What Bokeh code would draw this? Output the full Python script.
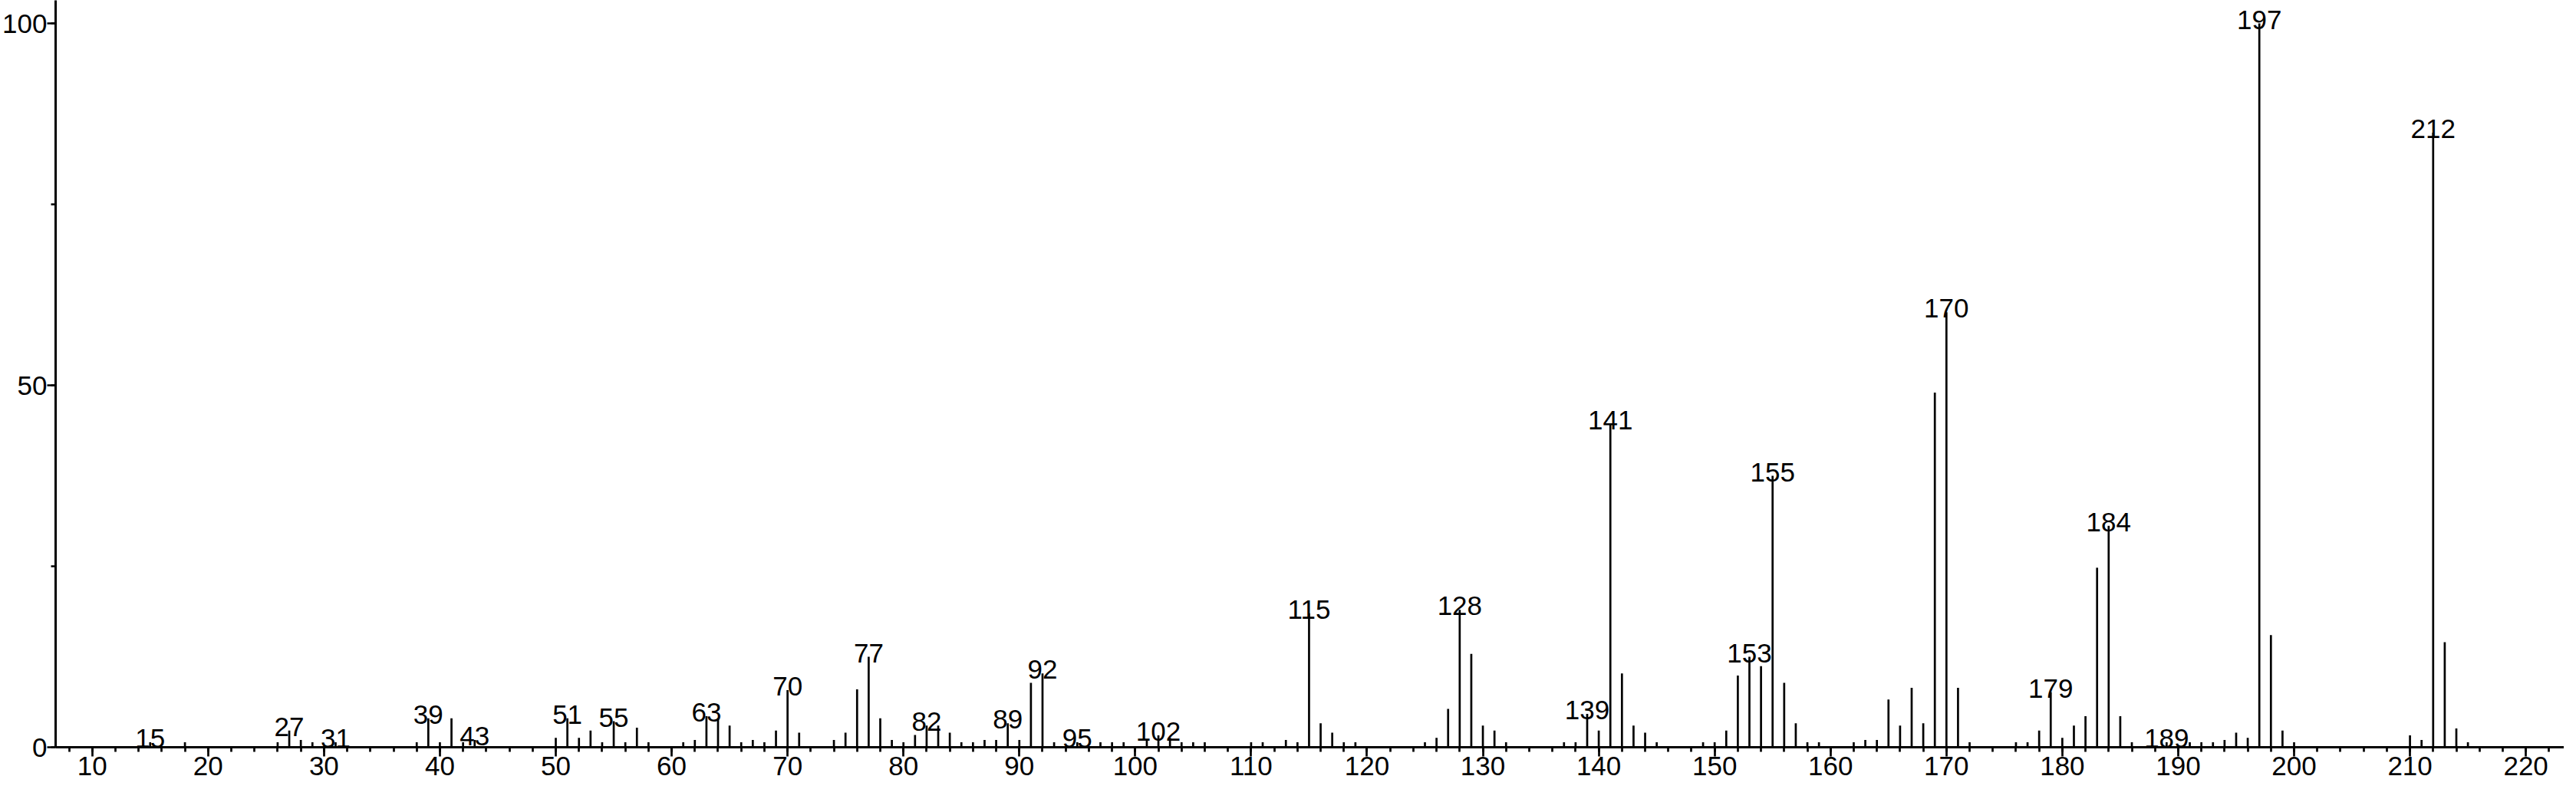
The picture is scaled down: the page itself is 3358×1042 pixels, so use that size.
from bokeh.plotting import figure
from bokeh.models import SingleIntervalTicker, Range1d, ColumnDataSource
from bokeh.core.properties import value
from bokeh.embed import file_html
from bokeh.resources import INLINE

# m/z values and relative intensities (%)
mz = [15, 18, 26, 27, 28, 29, 31, 38, 39, 40, 41, 42, 43,
      50, 51, 52, 53, 54, 55, 56, 57, 58, 61, 62, 63, 64, 65, 66, 67, 68, 69,
      70, 71, 74, 75, 76, 77, 78, 79, 80, 81, 82, 83, 84, 85, 86, 87, 88, 89,
      90, 91, 92, 93, 95, 97, 98, 99, 101, 102, 103, 104, 105, 106,
      110, 111, 113, 114, 115, 116, 117, 118, 119, 125, 126, 127, 128, 129,
      130, 131, 132, 137, 138, 139, 140, 141, 142, 143, 144, 145, 149,
      150, 151, 152, 153, 154, 155, 156, 157, 158, 159, 162, 163, 164, 165,
      166, 167, 168, 169, 170, 171, 172, 176, 177, 178, 179, 180, 181, 182,
      183, 184, 185, 186, 189, 191, 192, 193, 194, 195, 196, 197, 198, 199,
      200, 210, 211, 212, 213, 214, 215]
intensity = [0.7, 0.7, 0.7, 2.3, 1.0, 0.7, 0.7, 0.7, 4.0, 0.7, 4.0, 0.7, 1.0,
             1.3, 4.0, 1.3, 2.3, 0.7, 3.6, 0.7, 2.7, 0.7, 0.7, 1.0, 4.3, 4.0, 3.0, 0.7, 1.0, 0.7, 2.3,
             7.9, 2.0, 1.0, 2.0, 8.0, 12.5, 4.0, 1.0, 0.7, 1.7, 3.0, 3.0, 2.0, 0.7, 0.7, 1.0, 1.0, 3.3,
             1.0, 8.9, 10.2, 0.7, 0.7, 0.7, 0.7, 0.7, 1.0, 1.65, 1.3, 0.7, 0.7, 0.7,
             0.7, 0.7, 1.0, 0.7, 18.5, 3.3, 2.0, 0.7, 0.7, 0.7, 1.3, 5.3, 19.0, 12.9,
             3.0, 2.3, 0.7, 0.7, 0.7, 4.6, 2.3, 44.7, 10.2, 3.0, 2.0, 0.7, 0.7,
             0.7, 2.3, 9.9, 12.5, 11.2, 37.5, 8.9, 3.3, 0.7, 0.7, 0.7, 1.0, 1.0, 6.6,
             3.0, 8.2, 3.3, 49.0, 60.1, 8.2, 0.7, 0.7, 0.7, 2.3, 7.6, 1.3, 3.0, 4.3,
             24.8, 30.6, 4.3, 0.7, 0.7, 0.7, 0.7, 0.7, 1.0, 2.0, 1.3, 100.0, 15.5, 2.3,
             0.7, 1.65, 1.0, 84.9, 14.5, 2.6, 0.7]

# peaks carrying an m/z annotation
labeled_mz = [15, 27, 31, 39, 43, 51, 55, 63, 70, 77, 82, 89, 92, 95, 102,
              115, 128, 139, 141, 153, 155, 170, 179, 184, 189, 197, 212]

lookup = dict(zip(mz, intensity))
label_int = [lookup[m] for m in labeled_mz]
label_txt = [str(m) for m in labeled_mz]

FONT = "Liberation Sans"

p = figure(width=3342, height=1026, output_backend="svg", toolbar_location=None,
           x_range=Range1d(6.84, 223.3), y_range=Range1d(0, 103.18),
           min_border_left=70, min_border_right=0, min_border_top=0,
           min_border_bottom=52)
p.outline_line_color = None
p.xgrid.visible = False
p.ygrid.visible = False
p.background_fill_color = "white"
p.border_fill_color = "white"

src = ColumnDataSource(dict(mz=mz, intensity=intensity))
p.segment(x0="mz", y0=0, x1="mz", y1="intensity", source=src,
          line_color="black", line_width=2.7, line_cap="butt")

lsrc = ColumnDataSource(dict(x=labeled_mz, y=label_int, t=label_txt))
p.text(x="x", y="y", text="t", source=lsrc, text_align="center",
       text_baseline="alphabetic", y_offset=-5, text_color="black",
       text_font=value(FONT), text_font_size="35px")

for ax in (p.xaxis[0], p.yaxis[0]):
    ax.axis_line_color = "black"
    ax.axis_line_width = 3
    ax.major_tick_line_color = "black"
    ax.minor_tick_line_color = "black"
    ax.major_tick_line_width = 2.7
    ax.minor_tick_line_width = 2.7
    ax.major_tick_in = 0
    ax.minor_tick_in = 0
    ax.major_label_text_font = FONT
    ax.major_label_text_font_size = "35px"
    ax.major_label_text_color = "black"
    ax.major_label_standoff = 0

p.xaxis[0].ticker = SingleIntervalTicker(interval=10, num_minor_ticks=5)
p.xaxis[0].major_tick_out = 12
p.xaxis[0].minor_tick_out = 6
p.yaxis[0].ticker = SingleIntervalTicker(interval=50, num_minor_ticks=2)
p.yaxis[0].major_tick_out = 11
p.yaxis[0].minor_tick_out = 6

open("out.html", "w").write(file_html(p, INLINE))
